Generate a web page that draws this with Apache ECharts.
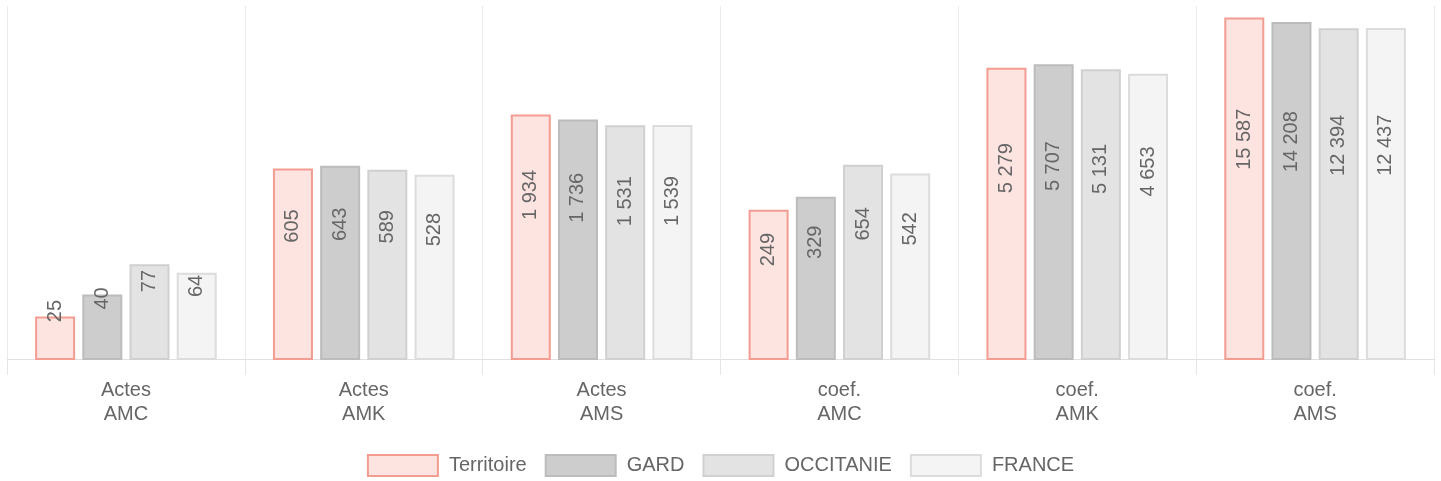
<!DOCTYPE html>
<html>
<head>
<meta charset="utf-8">
<script src="https://cdn.jsdelivr.net/npm/echarts@6/dist/echarts.min.js"></script>
<style>html,body{margin:0;padding:0;background:#fff}#c{width:1441px;height:481px}</style>
</head>
<body>
<div id="c"></div>
<script>
const categories = ["Actes\nAMC", "Actes\nAMK", "Actes\nAMS", "coef.\nAMC", "coef.\nAMK", "coef.\nAMS"];
const seriesNames = ["Territoire", "GARD", "OCCITANIE", "FRANCE"];
const territoire = [25, 605, 1934, 249, 5279, 15587];
const gard = [40, 643, 1736, 329, 5707, 14208];
const occitanie = [77, 589, 1531, 654, 5131, 12394];
const france = [64, 528, 1539, 542, 4653, 12437];

const values = [territoire, gard, occitanie, france];
const fills = ["#fde4e1", "#cdcdcd", "#e3e3e3", "#f4f4f4"];
const borders = ["#f39c92", "#bcbcbc", "#d0d0d0", "#dcdcdc"];

function fmt(v) { return String(v).replace(/\B(?=(\d{3})+(?!\d))/g, ' '); }

const chart = echarts.init(document.getElementById('c'));
const font = "Liberation Sans, Arial, sans-serif";
chart.setOption({
  animation: false,
  textStyle: { fontFamily: font },
  grid: { left: 7, right: 7, top: 6, bottom: 122 },
  legend: {
    bottom: -1, left: 'center',
    icon: 'rect', itemWidth: 70, itemHeight: 21, itemGap: 18,
    textStyle: { fontSize: 20, color: '#666', fontFamily: font, padding: [0, 0, 0, 6] },
    data: seriesNames
  },
  xAxis: {
    type: 'category', data: categories,
    axisLine: { lineStyle: { color: '#e0e0e0', width: 1 } },
    axisTick: { show: true, length: 16, lineStyle: { color: '#e6e6e6' } },
    splitLine: { show: true, lineStyle: { color: '#ebebeb' } },
    axisLabel: { fontSize: 20, color: '#666', lineHeight: 24, margin: 19, fontFamily: font }
  },
  yAxis: {
    type: 'log', logBase: 10, min: 10, max: 20000,
    show: false, splitLine: { show: false }
  },
  series: seriesNames.map((name, i) => ({
    name, type: 'bar', barWidth: 40, barGap: '18%',
    itemStyle: { color: fills[i], borderColor: borders[i], borderWidth: 2 },
    label: {
      show: true, position: 'inside', rotate: 90,
      fontSize: 20, color: '#666', fontFamily: font,
      formatter: p => fmt(p.value)
    },
    data: values[i].map(v => ({ value: v, label: { offset: [24 + 8 * (Math.log10(v) - 1), 0] } }))
  }))
});
</script>
</body>
</html>
